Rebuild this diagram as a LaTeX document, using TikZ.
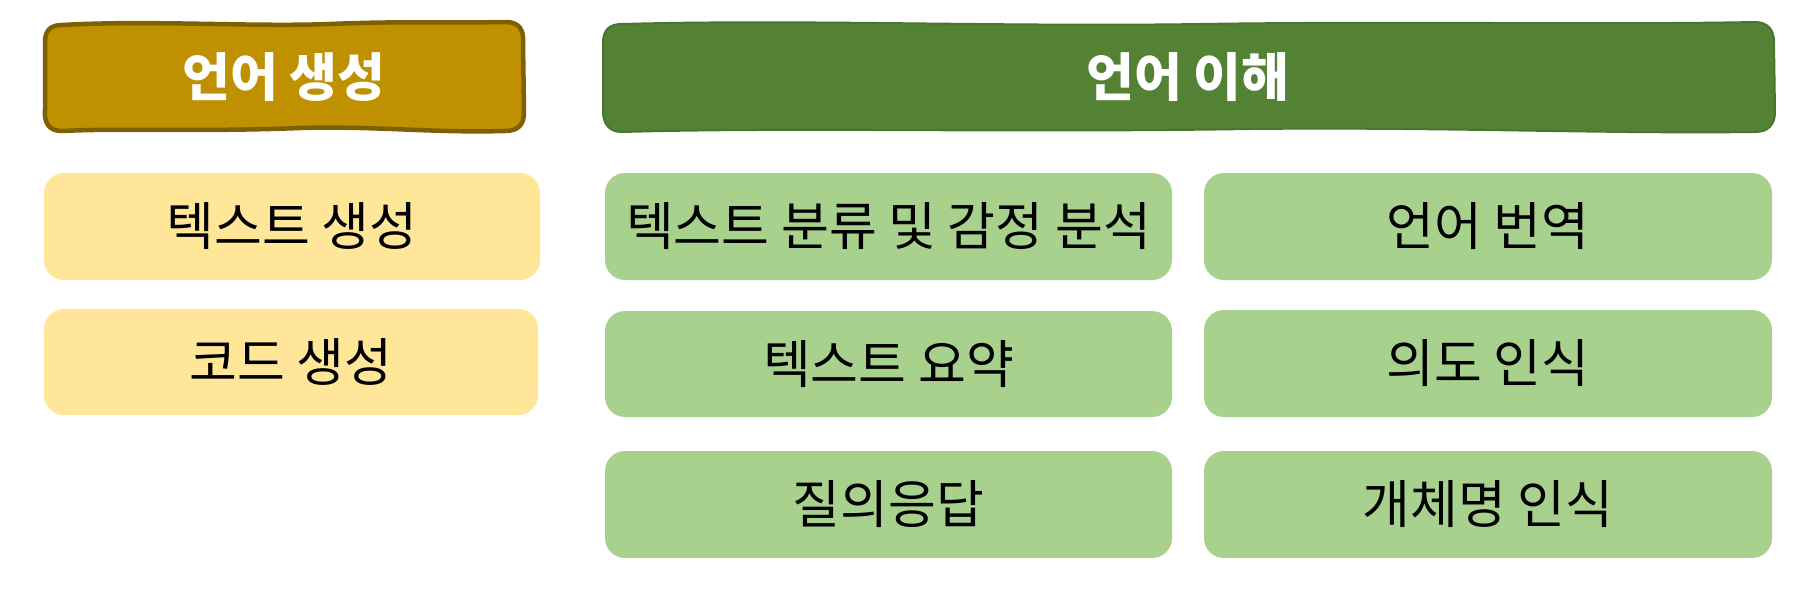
\documentclass[tikz,border=0pt]{standalone}
\usepackage{fontspec}
\newfontfamily\kr{Noto Sans CJK KR}
\definecolor{genfill}{HTML}{BF9000}
\definecolor{gendraw}{HTML}{7F6000}
\definecolor{undfill}{HTML}{548235}
\definecolor{unddraw}{HTML}{4A7530}
\definecolor{yelbox}{HTML}{FFE699}
\definecolor{grnbox}{HTML}{A9D18E}
\tikzset{
  itembox/.style={rounded corners=20pt, inner sep=0pt, font=\kr\fontsize{52}{56}\selectfont, text=black},
  yitem/.style={itembox, fill=yelbox},
  gitem/.style={itembox, fill=grnbox},
  hdrtext/.style={font=\kr\bfseries\fontsize{52}{56}\selectfont, text=white},
}
\begin{document}
\begin{tikzpicture}[x=1pt,y=-1pt]
\useasboundingbox (0,0) rectangle (1808,592);
% left header (wobbly)
\filldraw[fill=genfill, draw=gendraw, line width=4.5pt, line join=round]
  (62,25) .. controls (150,20) and (250,27) .. (330,24)
  .. controls (400,21) and (460,23) .. (506,22)
  .. controls (519,22) and (524,30) .. (523,42)
  -- (524,112) .. controls (524,125) and (518,131) .. (505,131)
  .. controls (430,133) and (380,126) .. (300,128)
  .. controls (200,132) and (120,128) .. (62,131)
  .. controls (49,131) and (44,123) .. (45,110)
  -- (45,42) .. controls (45,30) and (51,25) .. (62,25) -- cycle;
\node[hdrtext] (gen) at (284,77) {언어 생성};
% right header (wobbly)
\filldraw[fill=undfill, draw=unddraw, line width=2pt, line join=round]
  (622,24) .. controls (800,19) and (1000,27) .. (1200,24)
  .. controls (1400,21) and (1600,25) .. (1755,22)
  .. controls (1768,22) and (1774,30) .. (1774,42)
  -- (1775,112) .. controls (1775,125) and (1768,132) .. (1755,132)
  .. controls (1600,134) and (1450,127) .. (1250,129)
  .. controls (1000,133) and (800,127) .. (622,132)
  .. controls (609,132) and (603,124) .. (603,111)
  -- (603,43) .. controls (603,30) and (609,24) .. (622,24) -- cycle;
\node[hdrtext] (und) at (1188,77) {언어 이해};
% left column
\node[yitem, minimum width=496pt, minimum height=107pt] (tg) at (292,226.5) {텍스트 생성};
\node[yitem, minimum width=494pt, minimum height=106pt] (cg) at (291,362) {코드 생성};
% middle column
\node[gitem, minimum width=567pt, minimum height=107pt] (tc) at (888.5,226.5) {텍스트 분류 및 감정 분석};
\node[gitem, minimum width=567pt, minimum height=106pt] (ts) at (888.5,364) {텍스트 요약};
\node[gitem, minimum width=567pt, minimum height=107pt] (qa) at (888.5,504.5) {질의응답};
% right column
\node[gitem, minimum width=568pt, minimum height=107pt] (lt) at (1488,226.5) {언어 번역};
\node[gitem, minimum width=568pt, minimum height=107pt] (ir) at (1488,363.5) {의도 인식};
\node[gitem, minimum width=568pt, minimum height=107pt] (ner) at (1488,504.5) {개체명 인식};
\end{tikzpicture}
\end{document}
